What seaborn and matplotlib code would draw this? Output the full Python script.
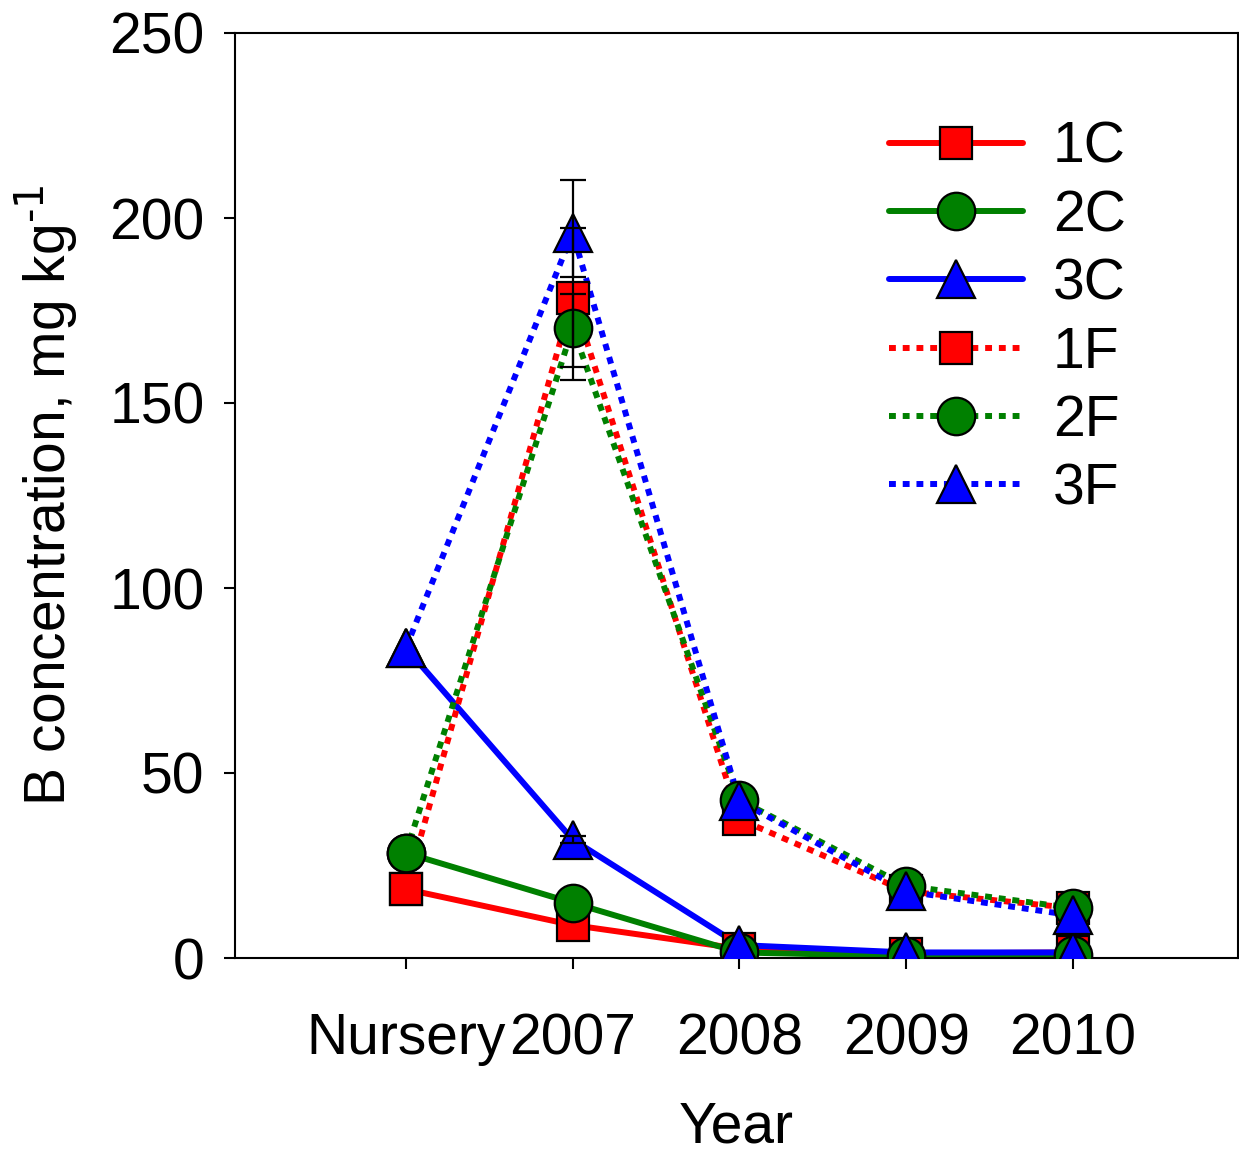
"""Boron concentration by year, recreated with seaborn."""
import numpy as np
import pandas as pd
import matplotlib
matplotlib.use("Agg")
import matplotlib.pyplot as plt
from matplotlib.lines import Line2D
import seaborn as sns

# Data
years = ["Nursery", "2007", "2008", "2009", "2010"]
series_names = ["1C", "2C", "3C", "1F", "2F", "3F"]

b_1c = [18.6, 8.9, 2.5, 1.2, 1.5]
b_2c = [28.4, 14.9, 1.5, 0.5, 0.8]
b_3c = [83.8, 32.0, 3.5, 1.5, 1.5]
b_1f = [18.6, 178.5, 37.5, 18.0, 13.5]
b_2f = [28.4, 170.3, 42.7, 19.5, 13.5]
b_3f = [83.8, 196.0, 42.4, 18.0, 11.5]

# error bars (2007 only, lower / upper)
err_lo_2007 = {"1F": 18.8, "2F": 14.1, "3F": 12.0, "3C": 1.0}
err_hi_2007 = {"1F": 18.8, "2F": 9.2, "3F": 14.3, "3C": 1.0}

values = {"1C": b_1c, "2C": b_2c, "3C": b_3c,
          "1F": b_1f, "2F": b_2f, "3F": b_3f}

colors = {"1": "#ff0000", "2": "#008000", "3": "#0000ff"}
markers = {"1": "s", "2": "o", "3": "^"}
msizes = {"1": 23, "2": 27, "3": 27}

sns.set_style("ticks", {"axes.edgecolor": "black", "text.color": "black",
                        "axes.labelcolor": "black", "xtick.color": "black",
                        "ytick.color": "black"})
plt.rcParams["font.family"] = ["Liberation Sans", "DejaVu Sans"]
plt.rcParams["font.size"] = 41

fig = plt.figure(figsize=(12.39, 11.54), dpi=100)
ax = fig.add_axes([235 / 1239, 1 - 958 / 1154, 1003 / 1239, 925 / 1154])

lw = 4.3
dotted = (0, (1.15, 1.15))
pos = np.arange(len(years))

df = pd.DataFrame({"pos": np.tile(pos, len(series_names)),
                   "series": np.repeat(series_names, len(years)),
                   "value": np.concatenate([values[s] for s in series_names])})

# lines first
for s in series_names:
    d = df[df.series == s]
    ls = "-" if s.endswith("C") else dotted
    sns.lineplot(data=d, x="pos", y="value", ax=ax, color=colors[s[0]],
                 lw=lw, linestyle=ls, dash_capstyle="butt",
                 legend=False, zorder=2)

# markers on top
for s in series_names:
    d = df[df.series == s]
    sns.lineplot(data=d, x="pos", y="value", ax=ax, color=colors[s[0]],
                 linestyle="", marker=markers[s[0]], markersize=msizes[s[0]],
                 markeredgecolor="black", markeredgewidth=1.6,
                 legend=False, zorder=3)

# error bars
for s in err_lo_2007:
    ax.errorbar(1, values[s][1],
                yerr=[[err_lo_2007[s]], [err_hi_2007[s]]],
                fmt="none", ecolor="black", elinewidth=1.6,
                capsize=9.5, capthick=1.6, zorder=4)

ax.set_xlim(-1.025, 4.99)
ax.set_ylim(0, 250)
ax.set_xticks(pos)
ax.set_xticklabels(years)
ax.set_yticks(np.arange(0, 251, 50))
ax.set_xlabel("Year", labelpad=25)
ax.set_ylabel(r"B concentration, mg kg$^{\text{-1}}$", labelpad=20)

for sp in ax.spines.values():
    sp.set_linewidth(1.5)
    sp.set_color("black")
ax.tick_params(axis="both", direction="out", length=8, width=1.5,
               colors="black", labelcolor="black")
ax.tick_params(axis="x", pad=31)
ax.tick_params(axis="y", pad=14)

handles = []
for s in series_names:
    ls = "-" if s.endswith("C") else dotted
    handles.append(Line2D([], [], color=colors[s[0]], lw=lw, linestyle=ls,
                          dash_capstyle="butt", marker=markers[s[0]],
                          markersize=msizes[s[0]], markeredgecolor="black",
                          markeredgewidth=1.6))
ax.legend(handles, series_names, loc="upper left",
          bbox_to_anchor=(0.652, 0.905), frameon=False, borderpad=0,
          borderaxespad=0, handlelength=2.35, handletextpad=0.53,
          labelspacing=0.25, numpoints=1)

fig.savefig("out.png", dpi=100)
